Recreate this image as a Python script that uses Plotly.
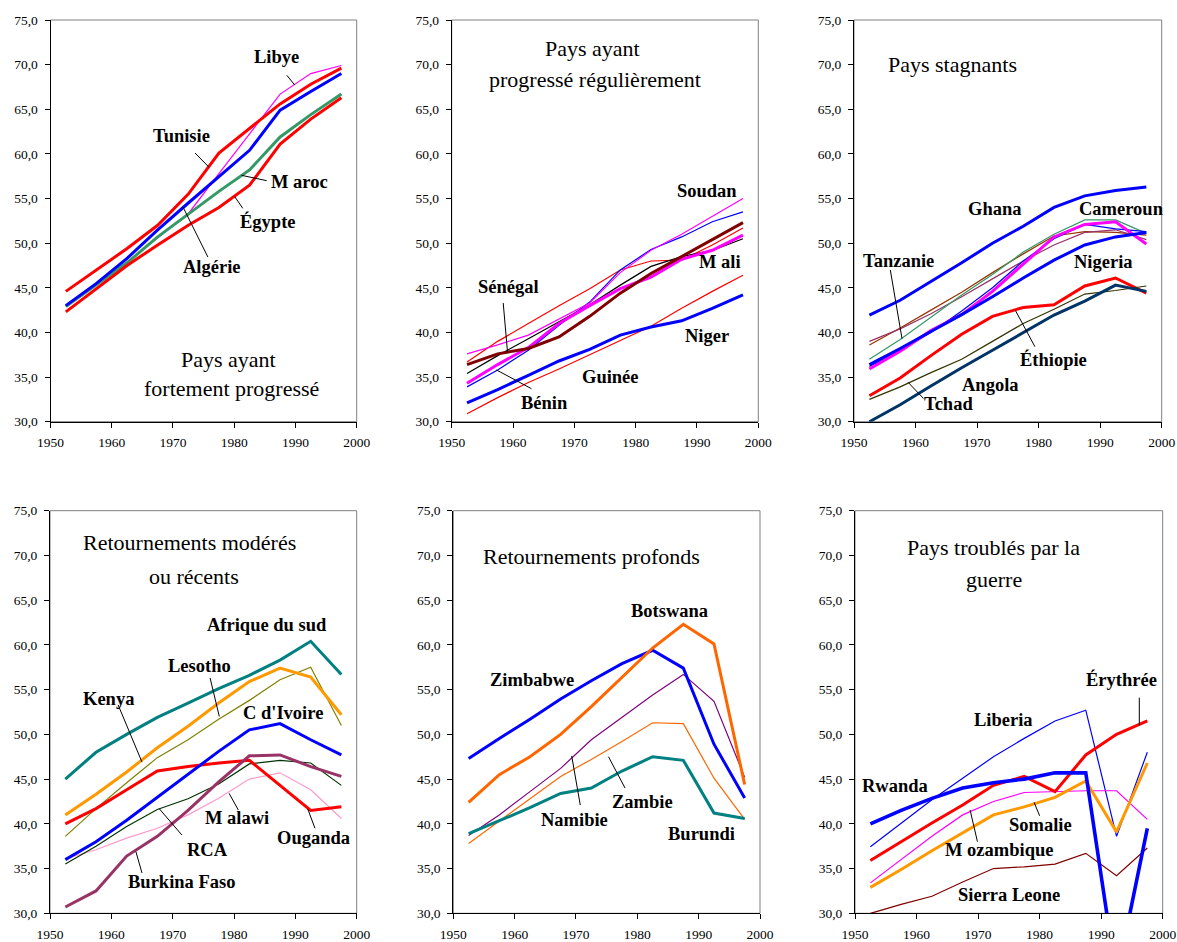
import plotly.graph_objects as go

# ---------------- DATA ----------------
years = [1952.5, 1957.5, 1962.5, 1967.5, 1972.5, 1977.5, 1982.5, 1987.5, 1992.5, 1997.5]
y_ticks = [30, 35, 40, 45, 50, 55, 60, 65, 70, 75]
x_ticks = [1950, 1960, 1970, 1980, 1990, 2000]

# Panel 1 : Pays ayant fortement progressé
libye   = [42.9, 45.4, 47.9, 50.6, 53.3, 57.8, 62.3, 66.7, 69.0, 69.9]
tunisie = [44.6, 47.0, 49.4, 52.0, 55.5, 60.1, 62.9, 65.6, 67.8, 69.6]
algerie = [43.0, 45.5, 48.3, 51.5, 54.5, 57.4, 60.4, 64.9, 67.0, 69.0]
maroc   = [42.9, 45.3, 47.8, 50.7, 53.3, 55.8, 58.2, 61.9, 64.4, 66.7]
egypte  = [42.3, 44.9, 47.5, 49.8, 52.0, 54.0, 56.5, 61.1, 63.9, 66.3]

# Panel 2 : Pays ayant progressé régulièrement
soudan      = [37.6, 38.6, 39.7, 41.5, 43.3, 46.7, 49.2, 51.0, 53.0, 55.0]
benin       = [33.9, 35.8, 38.0, 40.8, 43.4, 47.0, 49.3, 50.7, 52.4, 53.5]
p2_rouge    = [36.7, 39.0, 41.0, 43.0, 44.9, 47.0, 48.0, 48.1, 49.8, 51.7]
p2_noir     = [35.4, 37.4, 39.3, 41.2, 43.1, 45.3, 47.4, 48.5, 49.2, 50.5]
senegal     = [36.4, 37.6, 38.2, 39.5, 41.8, 44.4, 46.6, 48.5, 50.4, 52.3]
mali        = [34.3, 36.4, 38.3, 41.0, 43.0, 44.9, 46.2, 48.2, 49.2, 50.9]
guinee      = [30.9, 32.7, 34.4, 35.9, 37.5, 39.1, 40.7, 42.7, 44.6, 46.4]
niger       = [32.1, 33.6, 35.2, 36.8, 38.1, 39.7, 40.6, 41.3, 42.7, 44.2]

# Panel 3 : Pays stagnants
ghana       = [41.95, 43.6, 45.7, 47.8, 50.0, 51.9, 54.0, 55.3, 55.9, 56.3]
p3_brun     = [38.6, 40.5, 42.5, 44.5, 46.7, 48.8, 50.8, 51.3, 51.2, 50.9]
p3_violet   = [39.0, 40.4, 42.1, 44.0, 46.0, 48.0, 49.8, 51.2, 51.5, 50.4]
tanzanie    = [37.0, 39.2, 41.7, 44.2, 46.5, 49.0, 51.0, 52.6, 52.6, 51.1]
cameroun    = [35.9, 37.9, 40.2, 42.0, 44.6, 47.7, 50.7, 52.1, 52.4, 49.9]
p3_bleu     = [36.2, 38.0, 40.0, 42.4, 45.0, 48.0, 50.5, 52.1, 51.6, 51.3]
nigeria     = [36.4, 38.2, 40.1, 42.0, 44.0, 46.1, 48.1, 49.8, 50.7, 51.2]
ethiopie    = [32.9, 34.9, 37.4, 39.8, 41.8, 42.8, 43.1, 45.2, 46.1, 44.4]
tchad       = [32.5, 33.9, 35.5, 37.0, 39.0, 41.0, 42.6, 44.3, 44.7, 45.2]
angola      = [30.0, 31.9, 34.0, 36.05, 38.0, 40.0, 41.95, 43.5, 45.3, 44.6]

# Panel 4 : Retournements modérés ou récents
afrique_du_sud = [45.0, 48.0, 50.0, 51.9, 53.5, 55.1, 56.6, 58.3, 60.4, 56.7]
kenya          = [41.0, 43.3, 45.8, 48.5, 50.9, 53.5, 55.9, 57.4, 56.4, 52.2]
lesotho        = [38.6, 41.7, 44.6, 47.4, 49.4, 51.7, 53.8, 56.1, 57.5, 51.0]
ouganda        = [40.0, 41.7, 43.8, 45.9, 46.4, 46.8, 47.1, 44.3, 41.5, 41.9]
c_divoire      = [36.0, 38.0, 40.4, 43.0, 45.6, 48.1, 50.5, 51.2, 49.4, 47.7]
burkina_faso   = [30.7, 32.5, 36.4, 38.6, 41.5, 44.7, 47.6, 47.7, 46.4, 45.3]
rca            = [35.5, 37.5, 39.7, 41.6, 42.8, 44.45, 46.7, 47.1, 46.8, 44.3]
malawi         = [36.1, 37.1, 38.4, 39.5, 41.0, 42.85, 45.0, 45.7, 43.8, 40.6]

# Panel 5 : Retournements profonds
zimbabwe = [47.3, 49.55, 51.7, 53.95, 56.0, 57.9, 59.4, 57.4, 48.9, 42.9]
botswana = [42.4, 45.5, 47.5, 50.0, 53.1, 56.4, 59.65, 62.3, 60.1, 44.4]
namibie  = [38.7, 41.0, 43.6, 46.2, 49.4, 51.9, 54.4, 56.7, 53.7, 45.2]
zambie   = [37.8, 40.3, 42.8, 45.3, 47.2, 49.2, 51.3, 51.2, 45.1, 40.5]
burundi  = [38.9, 40.35, 41.8, 43.4, 44.0, 45.9, 47.5, 47.1, 41.2, 40.6]

# Panel 6 : Pays troublés par la guerre
erythree     = [35.9, 38.0, 40.1, 42.1, 44.3, 45.3, 43.6, 47.7, 50.0, 51.5]
liberia      = [37.45, 40.05, 42.7, 45.1, 47.5, 49.55, 51.5, 52.7, 38.6, 48.0]
rwanda       = [40.0, 41.5, 42.85, 44.0, 44.6, 45.0, 45.7, 45.7, 22.7, 39.5]
mozambique   = [33.4, 35.95, 38.6, 41.0, 42.5, 43.5, 43.6, 43.7, 43.7, 40.5]
somalie      = [32.9, 34.9, 37.0, 39.0, 41.0, 41.9, 42.95, 44.8, 39.1, 46.8]
sierra_leone = [30.0, 31.0, 31.9, 33.5, 35.0, 35.2, 35.5, 36.7, 34.2, 37.3]

# ---------------- STYLES ----------------
RED, BLUE, MAG = "#FF0000", "#0000FF", "#FF00FF"
THICK, THIN = 3.0, 1.2

panels = [
    [("Libye", libye, MAG, THIN), ("Maroc", maroc, "#339966", THICK),
     ("Égypte", egypte, RED, THICK), ("Algérie", algerie, BLUE, THICK),
     ("Tunisie", tunisie, RED, THICK)],
    [("Guinée", guinee, RED, THIN), ("Niger", niger, BLUE, THICK),
     ("Série rouge", p2_rouge, RED, THIN), ("Série noire", p2_noir, "#000000", THIN),
     ("Bénin", benin, BLUE, THIN), ("Soudan", soudan, MAG, THIN),
     ("Mali", mali, MAG, THICK), ("Sénégal", senegal, "#800000", THICK)],
    [("Ghana", ghana, BLUE, THICK), ("Série brune", p3_brun, "#993300", THIN),
     ("Série violette", p3_violet, "#993366", THIN), ("Tanzanie", tanzanie, "#339966", THIN),
     ("Série bleue", p3_bleu, BLUE, THIN), ("Cameroun", cameroun, MAG, THICK),
     ("Nigeria", nigeria, BLUE, THICK), ("Éthiopie", ethiopie, RED, THICK),
     ("Tchad", tchad, "#333300", THIN), ("Angola", angola, "#003366", THICK)],
    [("Afrique du sud", afrique_du_sud, "#008080", THICK), ("Lesotho", lesotho, "#808000", THIN),
     ("Kenya", kenya, "#FF9900", THICK), ("Malawi", malawi, "#FF99CC", THIN),
     ("RCA", rca, "#003300", THIN), ("Ouganda", ouganda, RED, THICK),
     ("C d'Ivoire", c_divoire, BLUE, THICK), ("Burkina Faso", burkina_faso, "#993366", THICK)],
    [("Namibie", namibie, "#800080", THIN), ("Zambie", zambie, "#FF6600", THIN),
     ("Burundi", burundi, "#008080", THICK), ("Zimbabwe", zimbabwe, BLUE, THICK),
     ("Botswana", botswana, "#FF6600", THICK)],
    [("Sierra Leone", sierra_leone, "#800000", THIN), ("Liberia", liberia, BLUE, THIN),
     ("Mozambique", mozambique, MAG, THIN), ("Somalie", somalie, "#FF9900", THICK),
     ("Érythrée", erythree, RED, THICK), ("Rwanda", rwanda, BLUE, 3.6)],
]

titles = [
    [("Pays ayant", 1979.1, 37.0), ("fortement progressé", 1979.6, 33.7)],
    [("Pays ayant", 1973.0, 71.8), ("progressé régulièrement", 1973.4, 68.3)],
    [("Pays stagnants", 1966.0, 70.0)],
    [("Retournements modérés", 1972.8, 71.4), ("ou récents", 1973.5, 67.7)],
    [("Retournements profonds", 1972.6, 69.9)],
    [("Pays troublés par la", 1972.5, 70.9), ("guerre", 1972.6, 67.3)],
]

labels = [
    [("Libye", 1986.9, 70.8, (1988.6, 68.8, 1989.9, 67.7)),
     ("Tunisie", 1971.4, 62.0, (1973.6, 60.1, 1975.9, 58.5)),
     ("M aroc", 1990.6, 56.9, (1985.3, 57.0, 1981.2, 57.6)),
     ("Égypte", 1985.5, 52.4, (1981.4, 53.9, 1980.1, 55.2)),
     ("Algérie", 1976.3, 47.3, (1975.7, 48.45, 1971.6, 54.1))],
    [("Soudan", 1991.7, 55.9, None),
     ("M ali", 1993.7, 47.9, None),
     ("Sénégal", 1959.2, 45.1, (1958.4, 43.3, 1959.1, 37.8)),
     ("Niger", 1991.7, 39.6, None),
     ("Guinée", 1975.9, 35.0, None),
     ("Bénin", 1965.1, 32.1, (1963.0, 33.7, 1957.3, 35.8))],
    [("Ghana", 1972.8, 53.8, None),
     ("Cameroun", 1993.5, 53.8, None),
     ("Tanzanie", 1957.2, 48.0, (1955.9, 47.0, 1957.8, 39.3)),
     ("Nigeria", 1990.5, 47.9, None),
     ("Éthiopie", 1982.4, 37.0, (1979.4, 38.4, 1976.2, 42.5)),
     ("Angola", 1972.1, 34.1, None),
     ("Tchad", 1965.3, 32.0, (1961.3, 32.6, 1958.8, 34.4))],
    [("Afrique du sud", 1985.3, 62.2, None),
     ("Lesotho", 1974.3, 57.6, (1976.1, 56.3, 1977.6, 52.0)),
     ("Kenya", 1959.5, 54.0, (1961.1, 53.3, 1965.0, 46.9)),
     ("C d'Ivoire", 1988.0, 52.35, None),
     ("M alawi", 1980.5, 40.6, (1980.7, 41.55, 1979.2, 43.4)),
     ("Ouganda", 1993.0, 38.4, (1993.2, 39.5, 1992.0, 41.7)),
     ("RCA", 1975.6, 37.1, (1971.5, 38.75, 1967.8, 41.7)),
     ("Burkina Faso", 1971.5, 33.5, (1965.0, 34.5, 1964.0, 36.9))],
    [("Botswana", 1985.2, 63.8, None),
     ("Zimbabwe", 1962.8, 56.05, None),
     ("Zambie", 1980.9, 42.4, (1978.0, 44.0, 1975.3, 47.5)),
     ("Namibie", 1969.8, 40.4, (1970.7, 42.1, 1969.3, 47.6)),
     ("Burundi", 1990.4, 38.9, None)],
    [("Érythrée", 1993.3, 56.1, (1996.2, 54.1, 1996.2, 51.0)),
     ("Liberia", 1974.2, 51.6, None),
     ("Rwanda", 1956.5, 44.2, None),
     ("Somalie", 1980.2, 39.9, (1980.0, 40.9, 1979.1, 42.4)),
     ("M ozambique", 1973.4, 37.1, (1969.9, 38.0, 1968.7, 41.55)),
     ("Sierra Leone", 1975.1, 32.1, None)],
]

# ---------------- LAYOUT (pixel geometry) ----------------
W, H = 1177, 942
x_px = [(50.5, 356.7), (451.7, 758.3), (854, 1161.7),
        (50, 356.7), (453.3, 760), (855, 1162.7)]
y_px = [(20, 421.7)] * 3 + [(510.7, 913.3)] * 3

FONT = "Liberation Serif"
TICK_SIZE, LABEL_SIZE, TITLE_SIZE = 13.5, 18.5, 22
fig = go.Figure()
layout = dict(width=W, height=H, margin=dict(l=0, r=0, t=0, b=0),
              paper_bgcolor="white", plot_bgcolor="white",
              showlegend=False, separators=", ",
              font=dict(family=FONT, color="black"))
shapes, annotations = [], []

for i in range(6):
    n = i + 1
    xa = "x" if n == 1 else f"x{n}"
    ya = "y" if n == 1 else f"y{n}"
    xl = "xaxis" if n == 1 else f"xaxis{n}"
    yl = "yaxis" if n == 1 else f"yaxis{n}"
    x0, x1 = x_px[i]
    yt, yb = y_px[i]
    layout[xl] = dict(domain=[x0 / W, x1 / W], anchor=ya, range=[1950, 2000],
                      tickvals=x_ticks, ticks="outside", ticklen=5, tickcolor="black",
                      showline=True, linecolor="black", linewidth=1, showgrid=False,
                      zeroline=False, ticklabelstandoff=3,
                      tickfont=dict(family=FONT, size=TICK_SIZE), automargin=False)
    layout[yl] = dict(domain=[1 - yb / H, 1 - yt / H], anchor=xa, range=[30, 75],
                      tickvals=y_ticks, tickformat=".1f", ticks="outside", ticklen=5,
                      tickcolor="black", showline=True, linecolor="black", linewidth=1,
                      showgrid=False, zeroline=False, ticklabelstandoff=4,
                      tickfont=dict(family=FONT, size=TICK_SIZE), automargin=False)
    shapes.append(dict(type="rect", xref=f"{xa} domain", yref=f"{ya} domain",
                       x0=0, x1=1, y0=0, y1=1, line=dict(color="#808080", width=1),
                       layer="below"))
    for name, vals, color, width in panels[i]:
        fig.add_trace(go.Scatter(x=years, y=vals, mode="lines", name=name,
                                 line=dict(color=color, width=width),
                                 xaxis=xa, yaxis=ya))
    for text, tx, ty in titles[i]:
        annotations.append(dict(text=text, x=tx, y=ty, xref=xa, yref=ya, showarrow=False,
                                font=dict(family=FONT, size=TITLE_SIZE, color="black")))
    for text, tx, ty, lead in labels[i]:
        annotations.append(dict(text=f"<b>{text}</b>", x=tx, y=ty, xref=xa, yref=ya,
                                showarrow=False,
                                font=dict(family=FONT, size=LABEL_SIZE, color="black")))
        if lead:
            shapes.append(dict(type="line", xref=xa, yref=ya, x0=lead[0], y0=lead[1],
                               x1=lead[2], y1=lead[3], line=dict(color="black", width=1)))

layout["shapes"] = shapes
layout["annotations"] = annotations
fig.update_layout(**layout)
fig.write_html("out.html", config={"displayModeBar": False},
               post_script="document.body.style.margin='0';document.body.style.overflow='hidden';")
